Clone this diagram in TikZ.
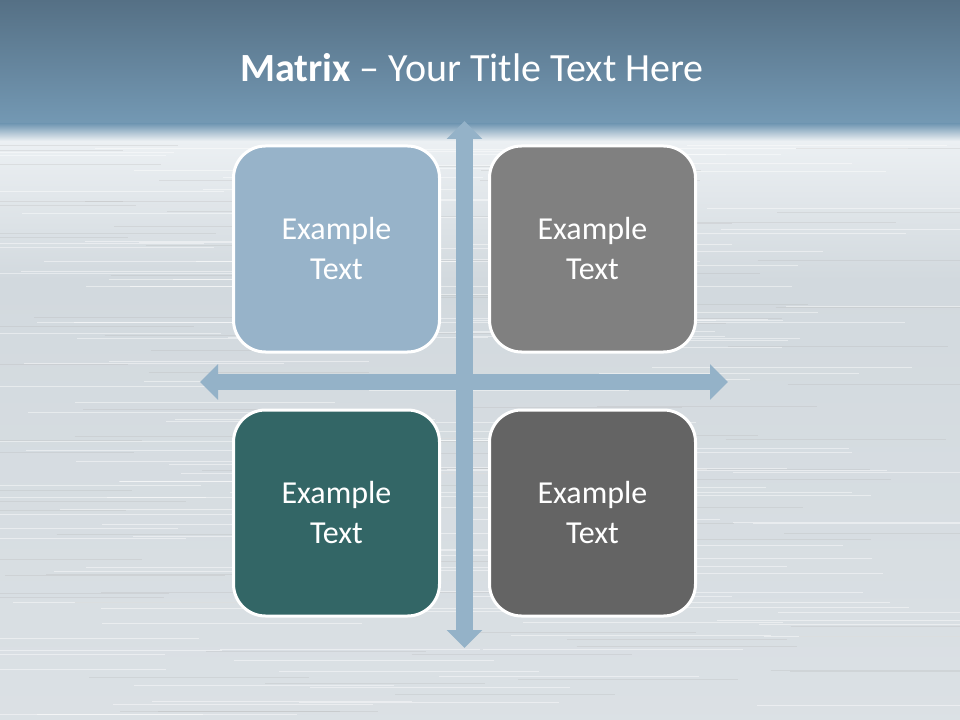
\documentclass[tikz,border=0pt]{standalone}
\usepackage{fontspec}
\setmainfont{Carlito}
\usetikzlibrary{arrows.meta,positioning}

\definecolor{bandtop}{RGB}{85,112,133}
\definecolor{bandbot}{RGB}{116,153,180}
\definecolor{silver}{RGB}{210,217,222}
\definecolor{silverlight}{RGB}{236,240,243}
\definecolor{axisblue}{RGB}{148,178,200}
\definecolor{cellblue}{RGB}{151,179,201}
\definecolor{cellgray}{RGB}{128,128,128}
\definecolor{cellteal}{RGB}{51,102,102}
\definecolor{celldark}{RGB}{100,100,100}

\begin{document}
\begin{tikzpicture}[x=0.75pt,y=-0.75pt]

\tikzset{cell/.style = {shape=rectangle,draw=white,line width=2.25pt,rounded corners=24pt,
  minimum width=154.5pt,minimum height=154.5pt,text=white,align=center,
  font=\fontsize{24}{30}\selectfont}}
\tikzset{axis/.style = {draw=axisblue,line width=12.4pt,
  {Triangle[width=26pt,length=13.5pt]}-{Triangle[width=26pt,length=13.5pt]}}}

\useasboundingbox (0,0) rectangle (960,720);

%background
\shade[top color=silverlight,bottom color=silver] (0,140) rectangle (960,280);
\shade[top color=silver,bottom color=silver!80!white] (0,280) rectangle (960,720);
\shade[top color=bandtop,bottom color=bandbot] (0,0) rectangle (960,124);
\shade[top color=bandbot,bottom color=silverlight] (0,124) rectangle (960,141);
\pgfmathsetseed{11}
\foreach \i in {1,...,160} {
  \pgfmathsetmacro{\yy}{145+575*rnd}
  \pgfmathsetmacro{\xa}{-100+900*rnd}
  \draw[white,opacity=0.45,line width=0.5pt] (\xa,\yy) -- ++(260,0);
}
\foreach \i in {1,...,90} {
  \pgfmathsetmacro{\yy}{145+575*rnd}
  \pgfmathsetmacro{\xa}{-100+900*rnd}
  \draw[black!30,opacity=0.25,line width=0.5pt] (\xa,\yy) -- ++(220,0);
}

%title
\node[anchor=base,text=white,font=\fontsize{30}{36}\selectfont] (title) at (472,82)
  {\textbf{Matrix} -- Your Title Text Here};

%axes
\coordinate (top) at (464.5,121);
\coordinate (bottom) at (464.5,648);
\coordinate (left) at (200,382);
\coordinate (right) at (728,382);
\draw[axis] (left) -- (right);
\draw[axis] (bottom) -- (top);

%cells
\node[cell, fill=cellblue] (c1) at (336.5,249) {Example\\Text};
\node[cell, fill=cellgray] (c2) at (592.5,249) {Example\\Text};
\node[cell, fill=cellteal] (c3) at (336.5,513) {Example\\Text};
\node[cell, fill=celldark] (c4) at (592.5,513) {Example\\Text};

\end{tikzpicture}
\end{document}
